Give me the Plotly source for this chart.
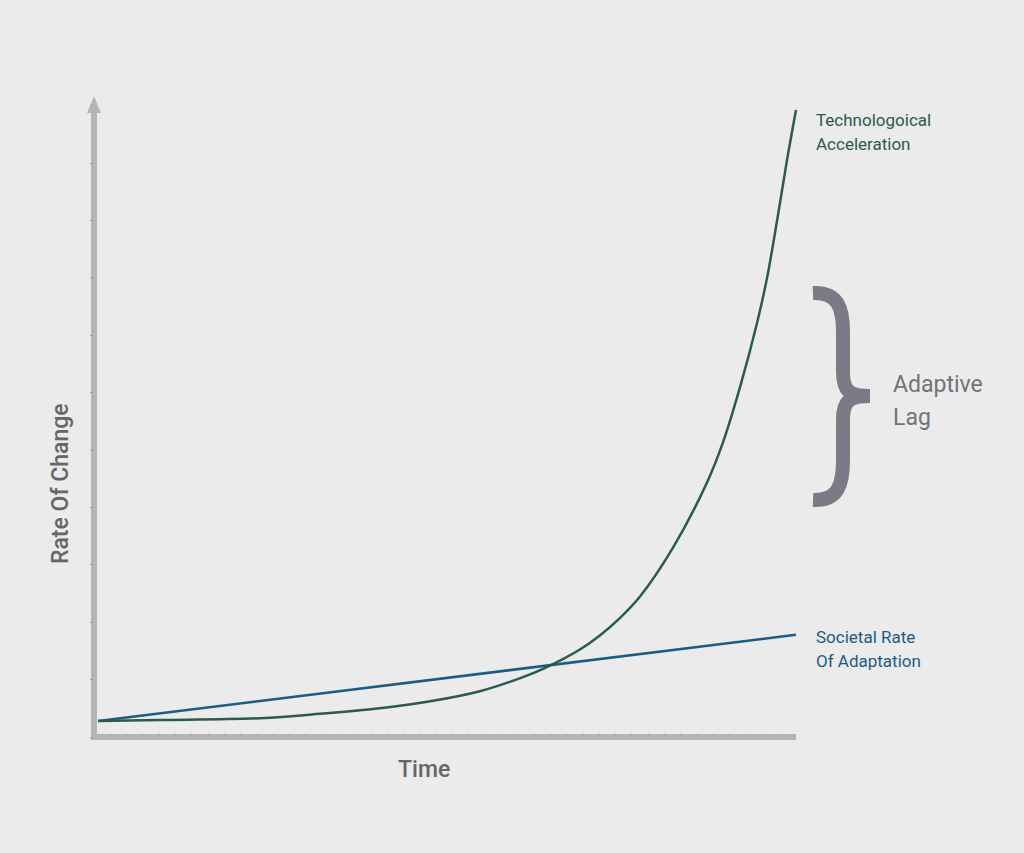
import plotly.graph_objects as go

# ---- data ----
time_tech = [0, 8.9, 23.2, 31.8, 40.4, 47.6, 54.7, 60.5, 64.0, 69.1, 71.9, 74.8,
             77.65, 82.38, 87.25, 89.54, 91.98, 94.41, 95.85, 97.28, 98.71, 100]
rate_tech = [2.55, 2.7, 3.0, 3.7, 4.6, 5.7, 7.3, 9.4, 11.0, 14.0, 16.2, 19.0,
             22.4, 30.2, 40.6, 47.0, 55.8, 66.0, 73.2, 82.3, 92.0, 100]
time_soc = [0, 100]
rate_soc = [2.55, 16.3]

label_tech = ["Technologoical", "Acceleration"]
label_soc = ["Societal Rate", "Of Adaptation"]
label_lag = ["Adaptive", "Lag"]
x_title = "Time"
y_title = "Rate Of Change"

# ---- layout geometry ----
W, H = 1024, 853
L, R, T, B = 94, 218, 96, 116
PW, PH = W - L - R, H - T - B
BG = "#ebebeb"
AXIS = "#b6b6b9"
GREEN = "#2c5a50"
BLUE = "#1b5b88"
GRAY = "#7a7b84"
FONT = "Roboto"


def px(x):
    return (x - L) / PW


def py(y):
    return (H - B - y) / PH


fig = go.Figure()
fig.add_trace(go.Scatter(x=time_soc, y=rate_soc, mode="lines",
                         line=dict(color=BLUE, width=2.5), hoverinfo="skip"))
fig.add_trace(go.Scatter(x=time_tech, y=rate_tech, mode="lines",
                         line=dict(color=GREEN, width=2.5, shape="spline", smoothing=1.0),
                         hoverinfo="skip"))

shapes = [
    # y axis line
    dict(type="line", xref="paper", yref="paper", x0=px(94), x1=px(94),
         y0=py(740), y1=py(108), line=dict(color=AXIS, width=6), layer="below"),
    # x axis line
    dict(type="line", xref="paper", yref="paper", x0=px(91), x1=px(796),
         y0=py(737), y1=py(737), line=dict(color=AXIS, width=6), layer="below"),
    # arrow head
    dict(type="path", xref="paper", yref="paper",
         path=f"M {px(87)},{py(113)} L {px(94)},{py(96)} L {px(101)},{py(113)} Z",
         fillcolor=AXIS, line=dict(color=AXIS, width=0), layer="below"),
]

# curly brace (decorative)
bp = [(813, 293), (838, 292), (843, 308), (843, 332), (843, 372), (850, 392),
      (870, 396), (850, 400), (843, 420), (843, 460), (843, 485), (838, 501), (813, 500)]
b = [(px(x), py(y)) for x, y in bp]
path = (f"M {b[0][0]},{b[0][1]} C {b[1][0]},{b[1][1]} {b[2][0]},{b[2][1]} {b[3][0]},{b[3][1]} "
        f"L {b[4][0]},{b[4][1]} C {b[4][0]},{b[5][1]} {b[5][0]},{b[6][1]} {b[6][0]},{b[6][1]} "
        f"C {b[7][0]},{b[6][1]} {b[8][0]},{b[7][1]} {b[8][0]},{b[8][1]} "
        f"L {b[9][0]},{b[9][1]} C {b[10][0]},{b[10][1]} {b[11][0]},{b[11][1]} {b[12][0]},{b[12][1]}")
shapes.append(dict(type="path", xref="paper", yref="paper", path=path,
                   line=dict(color=GRAY, width=14), layer="above"))

ann = []


def add_text(text, x, y, size, color, weight=400, anchor="left", angle=0):
    ann.append(dict(text=text, xref="paper", yref="paper", x=px(x), y=py(y),
                    xanchor=anchor, yanchor="middle", showarrow=False, textangle=angle,
                    font=dict(family=FONT, size=size, color=color, weight=weight)))


add_text(label_tech[0], 814, 120, 17, GREEN)
add_text(label_tech[1], 814, 144, 17, GREEN)
add_text(label_soc[0], 814, 637, 17, BLUE)
add_text(label_soc[1], 814, 661, 17, BLUE)
add_text(label_lag[0], 891, 384, 23, "#727279")
add_text(label_lag[1], 891, 417, 23, "#727279")
add_text(x_title, 424, 769, 23, "#666666", weight=500, anchor="center")
add_text(y_title, 60, 484, 23, "#666666", weight=500, anchor="center", angle=-90)

x0 = 0 - 4 / 6.98
x1 = 100 + 10 / 6.98
fig.update_layout(
    width=W, height=H, margin=dict(l=L, r=R, t=T, b=B),
    paper_bgcolor=BG, plot_bgcolor=BG, showlegend=False,
    shapes=shapes, annotations=ann,
    xaxis=dict(range=[x0, x1], showgrid=False, zeroline=False, showline=False,
               showticklabels=False, ticks="inside", ticklen=3, tickwidth=1,
               tickcolor="#a3a3a6", tickmode="linear", tick0=x0, dtick=16.3 / 6.98),
    yaxis=dict(range=[0, PH / 6.27], showgrid=False, zeroline=False, showline=False,
               showticklabels=False, ticks="outside", ticklen=3, tickwidth=1,
               tickcolor="#a3a3a6", tickmode="linear", tick0=0, dtick=57.4 / 6.27),
)

fig.write_html("out.html", config={"displayModeBar": False},
               post_script="document.body.style.margin='0';document.body.style.overflow='hidden';")
